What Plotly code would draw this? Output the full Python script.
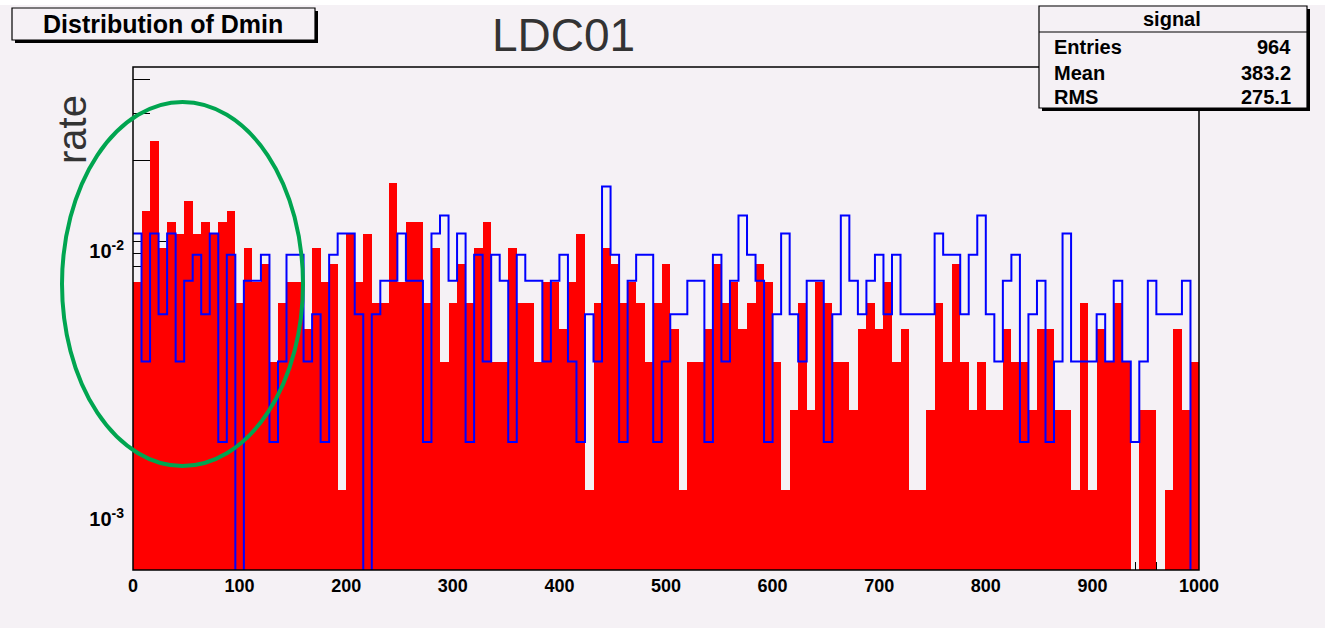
import numpy as np
import plotly.graph_objects as go

# ---------------- data ----------------
BIN_WIDTH = 8
X_MIN, X_MAX = 0, 1000

# red filled histogram (rate per bin of Dmin)
red_rate = [
    0.00706, 0.01295, 0.02354, 0.00942, 0.01177, 0.01059, 0.01412, 0.01059, 0.01177, 0.01059,
    0.01177, 0.01295, 0.00589, 0.00942, 0.00706, 0.00824, 0.00353, 0.00589, 0.00706, 0.00706,
    0.00471, 0.00942, 0.00706, 0.00824, 0.00118, 0.01059, 0.00706, 0.01059, 0.00589, 0.00589,
    0.01648, 0.00706, 0.01177, 0.01177, 0.00589, 0.00942, 0.00353, 0.00589, 0.00824, 0.00589,
    0.00942, 0.01177, 0.00353, 0.00353, 0.00942, 0.00589, 0.00589, 0.00353, 0.00706, 0.00706,
    0.00471, 0.00706, 0.01059, 0.00118, 0.00589, 0.00942, 0.00824, 0.00589, 0.00706, 0.00589,
    0.00353, 0.00589, 0.00824, 0.00471, 0.00118, 0.00353, 0.00353, 0.00471, 0.00824, 0.00589,
    0.00706, 0.00471, 0.00589, 0.00824, 0.00706, 0.00353, 0.00118, 0.00235, 0.00589, 0.00235,
    0.00706, 0.00589, 0.00353, 0.00353, 0.00235, 0.00471, 0.00589, 0.00471, 0.00706, 0.00353,
    0.00471, 0.00118, 0.00118, 0.00235, 0.00589, 0.00353, 0.00824, 0.00353, 0.00235, 0.00353,
    0.00235, 0.00235, 0.00471, 0.00353, 0.00353, 0.00235, 0.00471, 0.00471, 0.00235, 0.00235,
    0.00118, 0.00589, 0.00118, 0.00471, 0.00353, 0.00589, 0.00353, 0.0, 0.00235, 0.00235,
    0.0, 0.00118, 0.00471, 0.00235, 0.00353,
]

# blue outline histogram (rate per bin of Dmin)
blue_rate = [
    0.01066, 0.00355, 0.01066, 0.00533, 0.01066, 0.00355, 0.00711, 0.00889, 0.00533, 0.01066,
    0.00178, 0.00889, 0.0, 0.00711, 0.00711, 0.00889, 0.00178, 0.00355, 0.00889, 0.00889,
    0.00355, 0.00533, 0.00178, 0.00889, 0.01066, 0.01066, 0.00533, 0.0, 0.00533, 0.00711,
    0.00711, 0.01066, 0.00711, 0.00711, 0.00178, 0.01066, 0.01244, 0.00711, 0.01066, 0.00178,
    0.00889, 0.00355, 0.00889, 0.00711, 0.00178, 0.00889, 0.00711, 0.00711, 0.00355, 0.00711,
    0.00889, 0.00355, 0.00178, 0.00533, 0.00355, 0.01599, 0.00889, 0.00178, 0.00711, 0.00889,
    0.00889, 0.00178, 0.00355, 0.00533, 0.00533, 0.00711, 0.00711, 0.00178, 0.00889, 0.00355,
    0.00711, 0.01244, 0.00889, 0.00711, 0.00178, 0.00533, 0.01066, 0.00533, 0.00355, 0.00711,
    0.00711, 0.00178, 0.00533, 0.01244, 0.00711, 0.00533, 0.00711, 0.00889, 0.00533, 0.00889,
    0.00533, 0.00533, 0.00533, 0.00533, 0.01066, 0.00889, 0.00889, 0.00533, 0.00889, 0.01244,
    0.00533, 0.00355, 0.00711, 0.00889, 0.00178, 0.00533, 0.00711, 0.00178, 0.00355, 0.01066,
    0.00355, 0.00355, 0.00355, 0.00533, 0.00355, 0.00711, 0.00355, 0.00178, 0.00355, 0.00711,
    0.00533, 0.00533, 0.00533, 0.00711, 0.0,
]

x_tick_vals = [0, 100, 200, 300, 400, 500, 600, 700, 800, 900, 1000]
x_tick_text = ["0", "100", "200", "300", "400", "500", "600", "700", "800", "900", "1000"]
y_tick_vals = [1e-3, 1e-2]
y_tick_text = ["10<sup>-3</sup>", "10<sup>-2</sup>"]
y_minor_vals = [6e-4, 7e-4, 8e-4, 9e-4,
                2e-3, 3e-3, 4e-3, 5e-3, 6e-3, 7e-3, 8e-3, 9e-3,
                2e-2, 3e-2, 4e-2]

title_text = "Distribution of Dmin"
main_label = "LDC01"
y_title = "rate"
stats_name = "signal"
stats_rows = [("Entries", "964"), ("Mean", "383.2"), ("RMS", "275.1")]

# ---------------- geometry ----------------
W, H = 1325, 628
ML, MR, MT, MB = 133, 126, 67, 58
PW, PH = W - ML - MR, H - MT - MB

def px(x):
    return (x - ML) / PW

def py(y):
    return (H - MB - y) / PH

BG = "#F5F1F5"
FONT = "Liberation Sans"

edges = np.arange(X_MIN, X_MAX + BIN_WIDTH, BIN_WIDTH)
centers = edges[:-1] + BIN_WIDTH / 2.0

red_plot = [v if v > 0 else None for v in red_rate]
blue_plot = [v if v > 0 else 1e-6 for v in blue_rate]
blue_step_y = blue_plot + [blue_plot[-1]]

fig = go.Figure()
fig.add_trace(go.Bar(
    x=centers, y=red_plot, width=BIN_WIDTH,
    marker=dict(color="#FF0000", line=dict(width=0)),
    showlegend=False, hoverinfo="x+y",
))
fig.add_trace(go.Scatter(
    x=edges, y=blue_step_y, mode="lines",
    line=dict(color="#0000FF", width=2, shape="hv"),
    showlegend=False, hoverinfo="x+y",
))

fig.update_layout(
    width=W, height=H,
    margin=dict(l=ML, r=MR, t=MT, b=MB, pad=0),
    paper_bgcolor=BG, plot_bgcolor=BG,
    bargap=0,
    font=dict(family=FONT, color="black"),
    xaxis=dict(
        range=[X_MIN, X_MAX], showgrid=False, zeroline=False, showline=False,
        tickmode="array", tickvals=x_tick_vals, ticktext=x_tick_text,
        ticks="inside", ticklen=15, tickwidth=1, tickcolor="black",
        minor=dict(ticks="inside", dtick=20, tick0=0, ticklen=8, tickcolor="black", tickwidth=1),
        tickfont=dict(family=FONT, size=18, color="black", weight="bold"),
        ticklabelstandoff=3,
        layer="below traces",
    ),
    yaxis=dict(
        type="log", range=[-3.2276, -1.3507], showgrid=False, zeroline=False, showline=False,
        tickmode="array", tickvals=y_tick_vals, ticktext=y_tick_text,
        ticks="inside", ticklen=33, tickwidth=1, tickcolor="black",
        minor=dict(ticks="inside", tickmode="array", tickvals=y_minor_vals, ticklen=17,
                   tickcolor="black", tickwidth=1),
        tickfont=dict(family=FONT, size=20, color="black", weight="bold"),
        ticklabelstandoff=8, ticklabelshift=10,
        layer="below traces",
    ),
)

shapes = []
# top white strip
shapes.append(dict(type="rect", xref="paper", yref="paper",
                   x0=px(0), x1=px(W), y0=py(5), y1=py(0),
                   fillcolor="white", line=dict(width=0), layer="above"))
# plot frame
shapes.append(dict(type="rect", xref="paper", yref="paper", x0=0, x1=1, y0=0, y1=1,
                   line=dict(color="black", width=1.5), fillcolor="rgba(0,0,0,0)", layer="above"))
# title box with shadow
shapes.append(dict(type="rect", xref="paper", yref="paper",
                   x0=px(15), x1=px(318), y0=py(43), y1=py(11),
                   fillcolor="black", line=dict(width=0), layer="above"))
shapes.append(dict(type="rect", xref="paper", yref="paper",
                   x0=px(12), x1=px(315), y0=py(40), y1=py(8),
                   fillcolor=BG, line=dict(color="black", width=1.2), layer="above"))
# stats box with shadow
shapes.append(dict(type="rect", xref="paper", yref="paper",
                   x0=px(1042), x1=px(1310), y0=py(111), y1=py(9),
                   fillcolor="black", line=dict(width=0), layer="above"))
shapes.append(dict(type="rect", xref="paper", yref="paper",
                   x0=px(1039), x1=px(1307), y0=py(108), y1=py(6),
                   fillcolor=BG, line=dict(color="black", width=1.2), layer="above"))
shapes.append(dict(type="line", xref="paper", yref="paper",
                   x0=px(1039), x1=px(1307), y0=py(32), y1=py(32),
                   line=dict(color="black", width=1.2), layer="above"))
# green ellipse
shapes.append(dict(type="circle", xref="paper", yref="paper",
                   x0=px(62), x1=px(303), y0=py(466), y1=py(102),
                   line=dict(color="#00A550", width=4), fillcolor="rgba(0,0,0,0)", layer="above"))
fig.update_layout(shapes=shapes)

ann = []
ann.append(dict(text=title_text, xref="paper", yref="paper", x=px(163), y=py(24),
                xanchor="center", yanchor="middle", showarrow=False,
                font=dict(family=FONT, size=25, color="black", weight="bold")))
ann.append(dict(text=main_label, xref="paper", yref="paper", x=px(563), y=py(35),
                xanchor="center", yanchor="middle", showarrow=False,
                font=dict(family=FONT, size=46, color="#333333")))
ann.append(dict(text=y_title, xref="paper", yref="paper", x=px(72), y=py(130),
                xanchor="center", yanchor="middle", showarrow=False, textangle=-90,
                font=dict(family=FONT, size=40, color="#333333")))
ann.append(dict(text=stats_name, xref="paper", yref="paper", x=px(1172), y=py(19),
                xanchor="center", yanchor="middle", showarrow=False,
                font=dict(family=FONT, size=20, color="black", weight="bold")))
row_y = [47, 73, 97]
for (lab, val), yy in zip(stats_rows, row_y):
    ann.append(dict(text=lab, xref="paper", yref="paper", x=px(1052), y=py(yy),
                    xanchor="left", yanchor="middle", showarrow=False,
                    font=dict(family=FONT, size=20, color="black", weight="bold")))
    ann.append(dict(text=val, xref="paper", yref="paper", x=px(1293), y=py(yy),
                    xanchor="right", yanchor="middle", showarrow=False,
                    font=dict(family=FONT, size=20, color="black", weight="bold")))
fig.update_layout(annotations=ann)

fig.write_html("out.html")
